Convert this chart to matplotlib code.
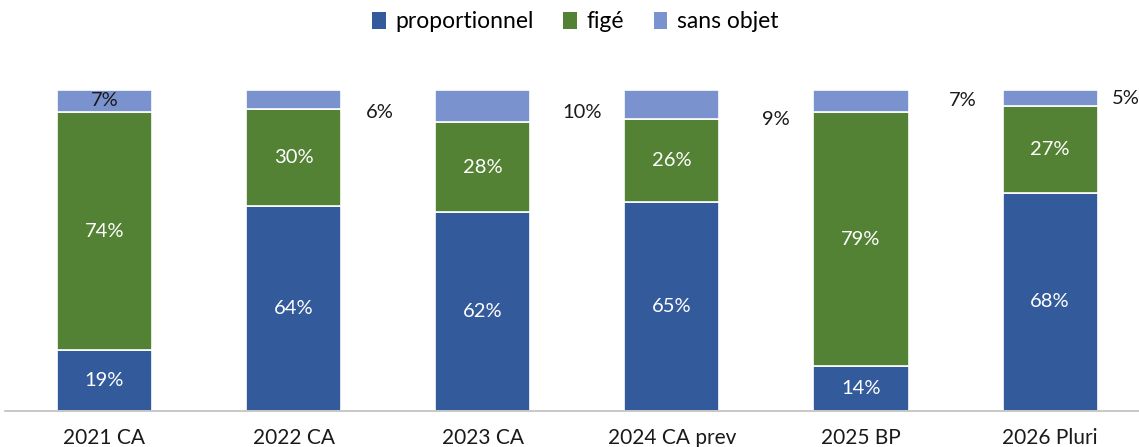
import matplotlib
matplotlib.use("Agg")
import matplotlib.pyplot as plt
from matplotlib.patches import Patch

categories = ["2021 CA", "2022 CA", "2023 CA", "2024 CA prev", "2025 BP", "2026 Pluri"]
proportionnel = [19, 64, 62, 65, 14, 68]
fige = [74, 30, 28, 26, 79, 27]
sans_objet = [7, 6, 10, 9, 7, 5]
series_names = ["proportionnel", "figé", "sans objet"]

colors = ["#335A9A", "#548235", "#7A93CF"]

plt.rcParams['font.family'] = ['Lato', 'DejaVu Sans']

fig = plt.figure(figsize=(11.39, 4.47), dpi=100)
ax = fig.add_axes([5/1139, 36/447, 1 - 5/1139, 321/447])

x = list(range(len(categories)))
w = 0.503
bottoms = [0] * len(categories)
for vals, col in zip([proportionnel, fige, sans_objet], colors):
    ax.bar(x, vals, w, bottom=bottoms, color=col, edgecolor="white", linewidth=1.2)
    bottoms = [b + v for b, v in zip(bottoms, vals)]

fs = 14.5
# labels inside bars for first two series
base = [0] * len(categories)
for vals in [proportionnel, fige]:
    for i, v in enumerate(vals):
        ax.text(i, base[i] + v / 2, f"{v}%", ha="center", va="center",
                color="white", fontsize=fs)
    base = [b + v for b, v in zip(base, vals)]

# sans objet labels (offset placement as in reference)
label_dx = [0.0, 0.458, 0.527, 0.548, 0.537, 0.40]
label_y = [96.6, 93.1, 93.1, 90.7, 96.6, 97.2]
for i, v in enumerate(sans_objet):
    ax.text(i + label_dx[i], label_y[i], f"{v}%", ha="center", va="center",
            color="#1a1a1a", fontsize=fs)

ax.set_xlim(-0.526, 5.47)
ax.set_ylim(0, 100)
ax.set_xticks(x)
ax.set_xticklabels(categories, fontsize=15, color="#1a1a1a")
ax.tick_params(axis="x", length=0, pad=12)
ax.set_yticks([])
for s in ["top", "right", "left"]:
    ax.spines[s].set_visible(False)
ax.spines["bottom"].set_color("#bfbfbf")
ax.spines["bottom"].set_linewidth(1.2)

handles = [Patch(facecolor=c, edgecolor="none") for c in colors]
fig.legend(handles, series_names, loc="center", bbox_to_anchor=(0.505, 1 - 22/447),
           ncol=3, frameon=False, fontsize=16.5, handlelength=0.6, handleheight=0.75,
           handletextpad=0.4, columnspacing=1.3)

fig.savefig("out.png", dpi=100)
